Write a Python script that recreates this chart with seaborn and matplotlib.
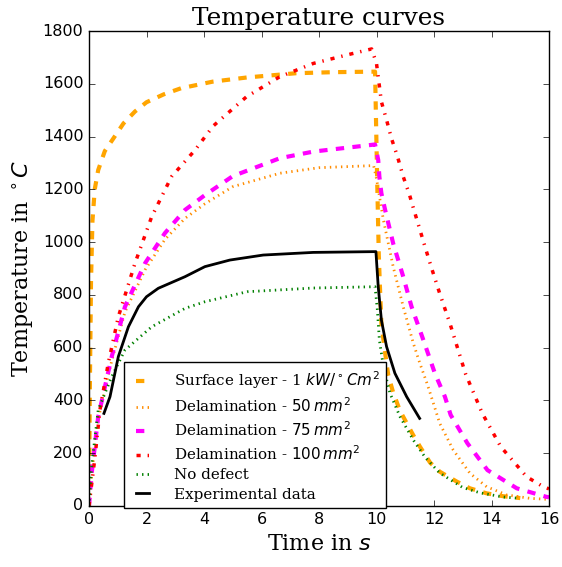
import numpy as np
import pandas as pd
import matplotlib
matplotlib.use("Agg")
import matplotlib.pyplot as plt
import seaborn as sns

# ---- data ----
surf_t = [0, 0.03, 0.07, 0.12, 0.2, 0.32, 0.55, 0.83, 1.2, 1.6, 2.0, 2.6, 3.2, 4.3, 5.5, 7.2, 8.5, 9.95,
          10.03, 10.08, 10.12, 10.17, 10.3, 10.41, 10.58, 10.82, 11.28, 11.51, 11.86, 12.2, 12.8, 13.25,
          13.83, 14.41, 15.0]
surf_T = [0, 450, 850, 1080, 1200, 1273, 1345, 1390, 1450, 1495, 1530, 1560, 1583, 1608, 1624, 1640, 1644, 1646,
          1200, 950, 830, 690, 580, 495, 430, 360, 268, 225, 165, 130, 92, 67,
          48, 37, 30]

d50_t = [0, 0.1, 0.32, 0.79, 1.25, 1.95, 2.64, 3.34, 4.03, 5.0, 6.64, 8.0, 9.9,
         10.0, 10.24, 10.58, 10.93, 11.28, 11.51, 11.74, 11.86, 12.2, 12.67, 13.25, 13.83, 14.53, 15.34, 16.0]
d50_T = [0, 125, 330, 550, 735, 895, 1010, 1090, 1145, 1210, 1261, 1282, 1290,
         1240, 1084, 907, 755, 617, 540, 470, 430, 313, 212, 124, 73, 42, 29, 25]

d75_t = [0, 0.1, 0.32, 0.79, 1.25, 1.95, 2.64, 3.34, 4.03, 5.0, 6.64, 7.8, 9.95,
         10.06, 10.1, 10.17, 10.3, 10.58, 10.93, 11.22, 11.63, 12.03, 12.38, 12.58, 13.16, 13.86, 14.88, 15.9, 16.0]
d75_T = [0, 130, 338, 566, 755, 920, 1034, 1122, 1178, 1250, 1318, 1343, 1370,
         1311, 1248, 1185, 1122, 995, 869, 755, 629, 503, 414, 345, 238, 136, 67, 35, 33]

d100_t = [0, 0.21, 0.38, 0.67, 1.02, 1.6, 2.18, 2.87, 3.69, 4.32, 5.48, 6.64, 7.8, 8.96, 9.83,
          10.0, 10.17, 10.35, 10.52, 10.73, 10.93, 11.14, 11.28, 11.68, 11.92, 12.2, 12.56, 12.73, 13.1,
          13.68, 14.32, 15.22, 15.8, 16.0]
d100_T = [0, 187, 364, 541, 717, 920, 1096, 1248, 1349, 1440, 1551, 1627, 1677, 1709, 1732,
          1677, 1532, 1463, 1393, 1324, 1248, 1182, 1130, 985, 900, 805, 690, 630, 500,
          351, 225, 111, 73, 65]

nodef_t = [0, 0.1, 0.32, 0.79, 1.25, 2.18, 3.34, 4.03, 5.5, 7.8, 9.95,
           10.03, 10.1, 10.24, 10.47, 10.82, 11.28, 11.69, 12.2, 13.0, 13.6, 14.41, 14.88]
nodef_T = [0, 160, 364, 490, 591, 679, 749, 774, 812, 826, 831,
           743, 629, 528, 427, 338, 250, 185, 125, 70, 50, 34, 30]

exp_t = [0.52, 0.73, 1.02, 1.37, 1.72, 2.0, 2.41, 3.34, 4.03, 4.9, 6.06, 7.8, 9.98,
         10.06, 10.17, 10.35, 10.64, 11.05, 11.5]
exp_T = [351, 414, 566, 679, 755, 793, 825, 869, 907, 932, 951, 961, 964,
         831, 705, 604, 503, 414, 332]

labels = ['Surface layer - 1 $kW/^\\circ C m^2$',
          'Delamination - $50\\,mm^2$',
          'Delamination - $75\\,mm^2$',
          'Delamination - $100\\,mm^2$',
          'No defect',
          'Experimental data']

x_ticks = [0, 2, 4, 6, 8, 10, 12, 14, 16]
y_ticks = [0, 200, 400, 600, 800, 1000, 1200, 1400, 1600, 1800]

# ---- style ----
plt.style.use('classic')
plt.rcParams['figure.facecolor'] = 'white'
plt.rcParams['savefig.facecolor'] = 'white'
plt.rcParams['mathtext.fontset'] = 'dejavusans'
plt.rcParams['font.family'] = ['DejaVu Sans']
serif = ['DejaVu Serif']

fig = plt.figure(figsize=(5.62, 5.67), dpi=100)
ax = fig.add_axes([89/562, 1 - 506/567, 460/562, 475/567])

series = [
    (surf_t, surf_T, dict(color='#FFA500', linestyle='--', linewidth=3)),
    (d50_t, d50_T, dict(color='#FF8C00', linestyle=':', linewidth=2)),
    (d75_t, d75_T, dict(color='magenta', linestyle='--', linewidth=3)),
    (d100_t, d100_T, dict(color='red', linestyle='-.', linewidth=2.5)),
    (nodef_t, nodef_T, dict(color='green', linestyle=':', linewidth=2)),
    (exp_t, exp_T, dict(color='black', linestyle='-', linewidth=2)),
]
for (t, T, kw), lab in zip(series, labels):
    df = pd.DataFrame({'t': t, 'T': T})
    sns.lineplot(data=df, x='t', y='T', ax=ax, label=lab, sort=False,
                 estimator=None, **kw)

ax.set_xlim(0, 16)
ax.set_ylim(0, 1800)
ax.set_xticks(x_ticks)
ax.set_yticks(y_ticks)
ax.tick_params(labelsize=11.5, direction='in', top=True, right=True)

ax.set_title('Temperature curves', fontsize=17.8, family=serif, pad=4)
ax.set_xlabel('Time in $s$', fontsize=16, family=serif)
ax.set_ylabel('Temperature in $^\\circ C$', fontsize=16, family=serif)

leg = ax.legend(loc='lower left', bbox_to_anchor=(0.077, -0.005), borderaxespad=0,
                prop={'family': serif, 'size': 10.9}, frameon=True, fancybox=False,
                handlelength=1.5, handletextpad=1.3, labelspacing=0.35, borderpad=0.45)
leg.get_frame().set_edgecolor('black')
leg.get_frame().set_linewidth(1.0)

fig.savefig('out.png', dpi=100)
